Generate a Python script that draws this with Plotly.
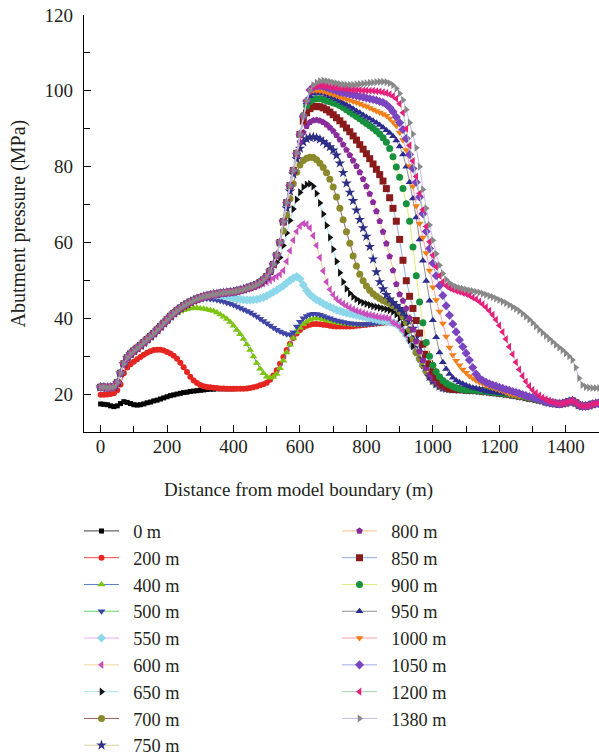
import plotly.graph_objects as go

# ---------------- data (x every 10 m) ----------------
X = list(range(0, 1510, 10))

# common rising envelope 0..630 m
ENV = [21.8, 21.8, 21.7, 21.8, 21.9, 23.0, 25.5, 28.0, 29.6, 30.6,
       31.4, 32.1, 32.8, 33.6, 34.4, 35.2, 36.0, 36.9, 37.8, 38.7,
       39.6, 40.5, 41.3, 42.0, 42.7, 43.3, 43.8, 44.3, 44.7, 45.1,
       45.4, 45.7, 45.9, 46.1, 46.3, 46.4, 46.6, 46.7, 46.8, 46.9,
       47.0, 47.2, 47.4, 47.6, 47.9, 48.2, 48.5, 48.9, 49.4, 50.1,
       51.0, 52.4, 54.2, 56.6, 60.0, 65.5, 70.5, 75.0, 79.0, 83.5,
       88.5, 93.3, 97.3, 100.0]

# common descending tail 880..1500 m
TAIL = [38.8, 38.5,
        37.8, 36.8, 35.6, 34.2, 32.6, 31.0, 29.3, 27.6, 26.0, 24.6,
        23.5, 22.7, 22.1, 21.7, 21.5, 21.4, 21.3, 21.3, 21.2, 21.2,
        21.1, 21.1, 21.0, 21.0, 20.9, 20.8, 20.7, 20.6, 20.5, 20.4,
        20.3, 20.2, 20.1, 20.0, 19.8, 19.7, 19.5, 19.4, 19.2, 19.0,
        18.9, 18.7, 18.5, 18.3, 18.0, 17.8, 17.6, 17.5, 17.4, 17.5,
        17.7, 18.0, 18.2, 17.7, 17.1, 16.8, 16.8, 17.0, 17.3, 17.5,
        17.6]

S_0 = [17.4, 17.3, 17.2, 16.9, 16.7, 16.9, 17.5, 18.0, 17.8, 17.5,
       17.2, 17.1, 17.2, 17.4, 17.7, 17.9, 18.2, 18.4, 18.7, 19.0,
       19.3, 19.6, 19.8, 20.0, 20.2, 20.4, 20.5, 20.7, 20.8, 20.9,
       21.0, 21.1, 21.2, 21.3, 21.3, 21.4, 21.4, 21.4, 21.4, 21.4,
       21.4]

OWN_200 = [19.8, 19.8, 19.9, 20.0, 20.2, 21.0, 22.5, 25.5, 27.0, 27.9,
           28.5, 29.2, 29.8, 30.4, 30.9, 31.3, 31.6, 31.7, 31.7, 31.5,
           31.1, 30.7, 30.1, 29.3, 28.3, 27.1, 25.8, 24.6, 23.6, 22.9,
           22.4, 22.1, 21.9, 21.8, 21.7, 21.6, 21.5, 21.5, 21.4, 21.4,
           21.4, 21.4, 21.4, 21.4, 21.5, 21.6, 21.8, 22.0, 22.3, 22.6,
           23.0, 23.8, 24.9, 26.3, 28.0, 29.8, 31.6, 33.3, 34.8, 36.0,
           36.9, 37.6, 38.0, 38.3, 38.5, 38.5, 38.4, 38.3, 38.2, 38.0,
           37.9, 37.8, 37.8, 37.8, 37.8, 37.8, 37.9, 38.0, 38.1, 38.2,
           38.3, 38.4, 38.5, 38.6, 38.7, 38.8, 38.9, 38.9]

OWN_400 = [40.3, 40.9, 41.4, 41.8, 42.1, 42.4, 42.6, 42.7, 42.7,
           42.6, 42.5, 42.3, 42.1, 41.9, 41.5, 41.0, 40.4, 39.8, 39.0,
           38.0, 36.9, 35.8, 34.5, 33.1, 31.6, 29.9, 28.2, 26.7, 25.5,
           24.6, 24.3, 24.5, 25.3, 26.8, 28.8, 31.0, 33.0, 34.8, 36.3,
           37.5, 38.4, 39.1, 39.6, 39.9, 40.0, 39.9, 39.7, 39.5, 39.3,
           39.1, 38.9, 38.7, 38.6, 38.5, 38.4, 38.3, 38.3, 38.3, 38.3,
           38.3, 38.4, 38.5, 38.6, 38.7, 38.8, 38.9, 38.9]

OWN_500 = [44.9,
           45.1, 45.2, 45.2, 45.1, 45.0, 44.8, 44.6, 44.4, 44.1, 43.8,
           43.5, 43.1, 42.7, 42.3, 41.9, 41.5, 41.0, 40.5, 39.9, 39.3,
           38.7, 38.1, 37.5, 37.0, 36.5, 36.1, 35.8, 35.7, 36.3, 37.8,
           39.1, 40.0, 40.6, 41.0, 41.2, 41.1, 40.9, 40.6, 40.3, 40.0,
           39.7, 39.4, 39.2, 39.0, 38.8, 38.7, 38.6, 38.5, 38.4, 38.4,
           38.4, 38.5, 38.6, 38.7, 38.8, 38.9, 39.0, 39.0]

OWN_550 = [46.1, 46.1, 46.0, 45.9, 45.7, 45.5,
           45.3, 45.1, 45.0, 44.9, 44.8, 44.8, 44.9, 45.0, 45.2, 45.5,
           45.9, 46.4, 46.9, 47.4, 48.0, 48.6, 49.3, 50.0, 50.6, 51.0,
           50.4, 48.8, 47.3, 46.3, 45.5, 44.9, 44.4, 43.9, 43.4, 43.0,
           42.6, 42.2, 41.9, 41.6, 41.4, 41.2, 41.0, 40.8, 40.6, 40.4,
           40.2, 40.0, 39.8, 39.6, 39.4, 39.3, 39.2, 39.0]

OWN_600 = [48.0, 48.3, 48.6, 48.9, 49.2,
           49.6, 50.0, 50.5, 51.0, 51.6, 52.6, 55.0, 57.8, 60.6, 62.9,
           64.3, 65.0, 64.8, 63.8, 61.8, 59.2, 56.0, 52.5, 49.6, 47.6,
           46.2, 45.1, 44.4, 43.8, 43.3, 42.8, 42.4, 42.0, 41.7, 41.4,
           41.1, 40.9, 40.7, 40.5, 40.3, 40.2, 40.1, 39.9]

OWN_650 = [54.8, 56.0, 59.2, 62.5, 65.8, 68.8, 71.3,
           73.2, 74.6, 75.3, 75.5, 74.8, 72.9, 70.4, 67.5, 64.5, 61.3,
           58.2, 55.0, 52.0, 49.6, 47.8, 46.6, 45.7, 45.0, 44.5, 44.1,
           43.8, 43.5, 43.2, 43.0, 42.8, 42.6, 42.4, 42.1, 41.7, 41.0,
           40.0, 38.5, 36.2]

OWN_700 = [63.0, 67.2, 71.5, 75.5, 78.5,
           80.4, 81.6, 82.2, 82.5, 82.4, 81.8, 80.9, 79.8, 78.4, 76.7,
           74.6, 72.0, 69.0, 66.0, 62.8, 59.8, 56.4, 53.8, 51.6, 49.9,
           48.5, 47.4, 46.5, 45.8, 45.2, 44.7, 44.3, 43.9, 43.4, 42.8,
           41.8, 40.5, 38.9, 37.0, 34.6]

OWN_750 = [69.0, 73.5, 78.0, 82.0,
           84.8, 86.5, 87.3, 87.7, 87.8, 87.6, 87.2, 86.6, 85.9, 85.2,
           84.3, 83.0, 80.9, 78.4, 75.6, 73.2, 71.0, 68.5, 66.0, 63.8,
           61.6, 58.9, 55.6, 52.2, 49.6, 47.7, 46.2, 45.0, 44.1, 43.3,
           42.5, 41.6, 40.5, 39.1, 37.3, 35.0, 32.2, 29.4, 27.2]

OWN_800 = [75.0, 79.0, 83.0,
           86.5, 89.0, 90.7, 91.7, 92.2, 92.3, 92.1, 91.7, 91.1, 90.3,
           89.4, 88.3, 87.1, 85.8, 84.4, 83.0, 81.6, 80.1, 78.5, 76.7,
           74.8, 72.8, 70.6, 68.2, 65.6, 62.8, 59.7, 56.3, 52.6, 49.0,
           46.3, 44.6, 42.6, 40.0, 37.0, 33.9, 31.2, 28.9, 26.9, 25.2,
           24.0, 23.1, 22.4]

OWN_850 = [88.5, 92.0, 94.2, 95.3, 95.8, 95.9, 95.8, 95.5, 95.0, 94.4,
           93.7, 92.9, 92.1, 91.2, 90.2, 89.2, 88.1, 87.0, 85.8, 84.6,
           83.4, 82.1, 80.7, 79.3, 77.9, 76.2, 74.2, 71.8, 69.0, 65.6,
           60.8, 55.3, 49.9, 45.8, 42.6, 39.4, 36.1, 33.2, 30.5, 28.0,
           26.0, 24.4, 23.2, 22.4, 21.9]

OWN_900 = [93.5, 96.0, 97.2, 97.7, 97.9, 97.9, 97.7, 97.4, 97.1,
           96.8, 96.5, 96.1, 95.6, 95.0, 94.4, 93.8, 93.2, 92.6, 92.0,
           91.4, 90.8, 90.1, 89.4, 88.6, 87.6, 86.4, 84.8, 82.6, 79.9,
           77.2, 74.2, 70.2, 65.6, 58.8, 51.2, 44.3, 38.8, 33.6, 30.0,
           27.6, 25.9, 24.6, 23.6, 22.9, 22.4, 22.0, 21.7, 21.4]

OWN_950 = [97.0, 98.6, 99.2, 99.4, 99.4, 99.2, 98.9, 98.6,
           98.2, 97.8, 97.3, 96.8, 96.3, 95.8, 95.3, 94.7, 94.2, 93.6,
           93.1, 92.6, 92.1, 91.6, 91.0, 90.3, 89.6, 88.9, 88.0, 86.9,
           85.3, 83.2, 80.0, 75.9, 71.6, 66.6, 60.8, 55.2, 49.8, 44.6,
           39.5, 35.0, 31.0, 28.4, 26.6, 25.3, 24.3, 23.6, 23.1, 22.7,
           22.3, 22.0, 21.7, 21.5, 21.3, 21.0]

OWN_1000 = [99.8, 100.1, 100.1, 100.0, 99.8, 99.6, 99.3,
            99.0, 98.7, 98.4, 98.1, 97.8, 97.5, 97.2, 96.9, 96.6, 96.2,
            95.9, 95.5, 95.1, 94.7, 94.3, 93.9, 93.4, 92.7, 91.8, 90.8,
            89.0, 87.0, 84.4, 80.2, 74.8, 69.6, 65.0, 61.3, 57.2, 52.6,
            48.2, 44.8, 41.8, 38.6, 35.2, 32.3, 30.3, 28.8, 27.6, 26.5,
            25.6, 24.8, 24.2, 23.6, 23.1, 22.7, 22.3, 22.0, 21.7, 21.4,
            21.1, 20.8, 20.4]

OWN_1050 = [100.2, 101.0, 101.3, 101.3, 101.2, 100.9, 100.6,
            100.3, 100.0, 99.7, 99.5, 99.3, 99.1, 98.9, 98.7, 98.5, 98.3,
            98.1, 97.9, 97.7, 97.5, 97.2, 96.9, 96.4, 95.6, 94.5, 93.1,
            91.6, 89.8, 87.4, 83.2, 79.5, 75.9, 72.0, 67.6, 62.9, 58.4,
            54.5, 51.2, 48.6, 46.0, 43.3, 40.8, 38.5, 36.4, 34.3, 32.5,
            30.8, 29.0, 27.0, 25.3, 24.2, 23.6, 23.1, 22.7, 22.4, 22.1,
            21.8, 21.5, 21.2, 21.0, 20.7, 20.4, 20.2, 19.9, 19.6, 19.3,
            19.1, 18.9, 18.6]

OWN_1200 = [101.0, 101.3, 101.4, 101.3, 101.2, 101.0,
            100.9, 100.8, 100.7, 100.6, 100.5, 100.4, 100.3, 100.2, 100.2, 100.1,
            100.1, 100.0, 100.0, 99.9, 99.8, 99.6, 99.4, 99.1, 98.6, 97.9,
            96.6, 94.2, 90.0, 85.6, 81.5, 77.4, 72.9, 68.6, 64.2, 60.2,
            56.6, 53.6, 51.2, 49.6, 48.6, 48.0, 47.6, 47.3, 47.0, 46.7,
            46.4, 46.0, 45.5, 45.0, 44.4, 43.7, 42.9, 42.0, 40.9, 39.6,
            38.1, 36.4, 34.5, 32.5, 30.5, 28.4, 26.5, 24.8, 23.3, 22.1,
            21.1, 20.3, 19.6, 19.1, 18.6, 18.2, 17.9, 17.6, 17.5]

OWN_1380 = [101.5, 102.2, 102.6, 102.7, 102.6, 102.4,
            102.2, 102.0, 101.8, 101.7, 101.6, 101.6, 101.6, 101.7, 101.8, 101.9,
            102.0, 102.1, 102.2, 102.3, 102.4, 102.4, 102.3, 102.0, 101.5, 100.6,
            99.3, 97.6, 95.0, 91.6, 88.6, 85.0, 80.0, 74.0, 69.0, 64.6,
            60.6, 57.0, 54.0, 51.8, 50.2, 49.3, 48.7, 48.3, 48.0, 47.8,
            47.6, 47.4, 47.2, 47.0, 46.8, 46.5, 46.2, 45.9, 45.6, 45.2,
            44.8, 44.4, 44.0, 43.5, 43.0, 42.5, 41.9, 41.2, 40.5, 39.7,
            38.8, 37.9, 37.0, 36.2, 35.4, 34.6, 33.8, 33.0, 32.3, 31.6,
            30.8, 30.0, 29.0, 27.0, 24.2, 22.4, 21.9, 21.7, 21.6, 21.6,
            21.6]


def env_until(x):
    return ENV[: x // 10 + 1]


def tail_from(x):
    return TAIL[(x - 880) // 10:]


SERIES = [
    ("0 m", S_0),
    ("200 m", OWN_200 + tail_from(880)),
    ("400 m", env_until(200) + OWN_400 + tail_from(880)),
    ("500 m", env_until(280) + OWN_500 + tail_from(880)),
    ("550 m", env_until(330) + OWN_550 + tail_from(880)),
    ("600 m", env_until(440) + OWN_600 + tail_from(880)),
    ("650 m", env_until(520) + OWN_650 + tail_from(930)),
    ("700 m", env_until(540) + OWN_700 + tail_from(950)),
    ("750 m", env_until(550) + OWN_750 + tail_from(990)),
    ("800 m", env_until(560) + OWN_800 + tail_from(1030)),
    ("850 m", env_until(590) + OWN_850 + tail_from(1050)),
    ("900 m", env_until(600) + OWN_900 + tail_from(1090)),
    ("950 m", env_until(610) + OWN_950 + tail_from(1160)),
    ("1000 m", env_until(620) + OWN_1000 + tail_from(1230)),
    ("1050 m", env_until(620) + OWN_1050 + tail_from(1330)),
    ("1200 m", env_until(630) + OWN_1200 + tail_from(1390)),
    ("1380 m", env_until(630) + OWN_1380),
]

# ---------------- styles ----------------
MARKER_COLORS = ["#000000", "#E52521", "#7DC40E", "#3E45A6", "#8DD7EA", "#C94FBE",
                 "#111111", "#8A8A2C", "#2C2E85", "#8A2B9B", "#8A1B1B", "#17913E",
                 "#2E2B8F", "#F2801A", "#7C45C0", "#E5207B", "#888888"]
LINE_COLORS = ["#404040", "#EE4B47", "#5A80C0", "#63D36E", "#F2A8F2", "#F0D49C",
               "#A9E4EE", "#9A5C5C", "#D8D39C", "#F8BF8B", "#8DAEE0", "#D8EE7C",
               "#8E8E8E", "#FFA0A8", "#9EAAF0", "#A2D6AC", "#CDB8EC"]
SYMBOLS = ["square", "circle", "triangle-up", "triangle-down", "diamond", "triangle-left",
           "triangle-right", "circle", "star", "pentagon", "square", "circle",
           "triangle-up", "triangle-down", "diamond", "triangle-left", "triangle-right"]
SIZES = [5, 6, 7, 7, 7, 7, 7, 7, 8, 7, 7, 7, 7, 7, 7, 7, 7]

fig = go.Figure()
for i, (name, ys) in enumerate(SERIES):
    fig.add_trace(go.Scatter(
        x=X[:len(ys)], y=ys, mode="lines+markers",
        name="\u00a0\u00a0" + name,
        line=dict(color=LINE_COLORS[i], width=1),
        marker=dict(symbol=SYMBOLS[i], size=SIZES[i], color=MARKER_COLORS[i],
                    line=dict(width=0)),
        legend="legend" if i < 9 else "legend2",
        legendgroup="g%d" % i,
    ))

FONT = "Liberation Serif"
TXT = "#231F20"
W, H = 599, 756
ML, MR, MT, MB = 84, 0, 15, 324
PW, PH = W - ML - MR, H - MT - MB


def px_x(p):
    return (p - ML) / PW


def px_y(p):
    return (H - MB - p) / PH


axis_common = dict(
    showline=True, linecolor="black", linewidth=1.3,
    ticks="inside", ticklen=7, tickwidth=1.2, tickcolor="black",
    showgrid=False, zeroline=False,
    tickfont=dict(family=FONT, size=19, color=TXT),
)

LEG_FONT = 18.3

fig.update_layout(
    width=W, height=H,
    margin=dict(l=ML, r=MR, t=MT, b=MB, autoexpand=False),
    paper_bgcolor="white", plot_bgcolor="white",
    font=dict(family=FONT, color=TXT),
    xaxis=dict(range=[-50, 1500], tickvals=[0, 200, 400, 600, 800, 1000, 1200, 1400],
               minor=dict(ticks="inside", ticklen=6, tickwidth=1.2, tickcolor="black",
                          dtick=100, tick0=0),
               ticklabelstandoff=-3, automargin=False,
               **axis_common),
    yaxis=dict(range=[10, 120], tickvals=[20, 40, 60, 80, 100, 120],
               minor=dict(ticks="inside", ticklen=6, tickwidth=1.2, tickcolor="black",
                          dtick=10, tick0=0),
               ticklabelstandoff=6, automargin=False,
               **axis_common),
    legend=dict(x=px_x(79), xanchor="left", y=px_y(512.5), yanchor="top",
                font=dict(family=FONT, size=LEG_FONT, color=TXT), itemwidth=35,
                bgcolor="rgba(0,0,0,0)", borderwidth=0, tracegroupgap=0),
    legend2=dict(x=px_x(337), xanchor="left", y=px_y(512.5), yanchor="top",
                 font=dict(family=FONT, size=LEG_FONT, color=TXT), itemwidth=35,
                 bgcolor="rgba(0,0,0,0)", borderwidth=0, tracegroupgap=0),
    showlegend=True,
    annotations=[
        dict(text="Distance from model boundary (m)", xref="paper", yref="paper",
             x=px_x(298.5), y=px_y(490), xanchor="center", yanchor="middle",
             showarrow=False, font=dict(family=FONT, size=19, color=TXT)),
        dict(text="Abutment pressure (MPa)", xref="paper", yref="paper",
             x=px_x(18), y=px_y(223.5), xanchor="center", yanchor="middle",
             textangle=-90, showarrow=False, font=dict(family=FONT, size=20, color=TXT)),
    ],
)

fig.write_html("out.html", config={"displayModeBar": False})
